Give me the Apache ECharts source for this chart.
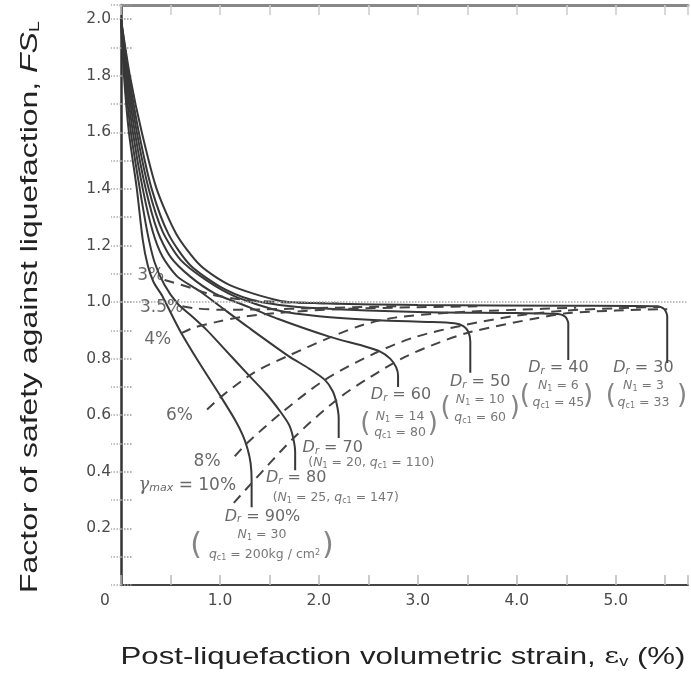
<!DOCTYPE html>
<html><head><meta charset="utf-8">
<script src="https://cdn.jsdelivr.net/npm/echarts@6/dist/echarts.min.js"></script>
<style>html,body{margin:0;padding:0;background:#fff}#c{width:691px;height:679px}</style>
</head><body><div id="c"></div>
<script>
// ---- tick labels ----
const xTickLabels = ['0', '1.0', '2.0', '3.0', '4.0', '5.0'];
const yTickLabels = ['0.2', '0.4', '0.6', '0.8', '1.0', '1.2', '1.4', '1.6', '1.8', '2.0'];

// ---- solid curves: relative density Dr (εv %, FSL) ----
const dr90 = [[0,2.0],[0.03,1.8],[0.08,1.6],[0.16,1.4],[0.22,1.22],[0.27,1.13],[0.33,1.07],[0.42,1.02],[0.52,0.95],[0.61,0.89],[0.8,0.78],[1.01,0.665],[1.15,0.585],[1.23,0.53],[1.28,0.48],[1.31,0.43],[1.32,0.37],[1.32,0.275]];
const dr80 = [[0,2.0],[0.04,1.8],[0.1,1.6],[0.19,1.4],[0.27,1.24],[0.34,1.14],[0.44,1.06],[0.57,0.995],[0.7,0.955],[0.87,0.9],[1.03,0.84],[1.29,0.742],[1.47,0.675],[1.62,0.608],[1.7,0.565],[1.74,0.52],[1.76,0.47],[1.76,0.406]];
const dr70 = [[0,2.0],[0.05,1.8],[0.12,1.6],[0.22,1.4],[0.32,1.25],[0.42,1.16],[0.57,1.09],[0.79,1.04],[1.02,0.98],[1.29,0.91],[1.69,0.81],[1.9,0.765],[2.06,0.725],[2.14,0.685],[2.18,0.64],[2.2,0.59],[2.2,0.52]];
const dr60 = [[0,2.0],[0.06,1.8],[0.14,1.6],[0.25,1.4],[0.37,1.25],[0.5,1.16],[0.7,1.09],[0.95,1.03],[1.2,0.995],[1.59,0.94],[2.12,0.876],[2.45,0.845],[2.62,0.825],[2.72,0.8],[2.78,0.77],[2.8,0.74],[2.8,0.70]];
const dr50 = [[0,2.0],[0.07,1.8],[0.16,1.6],[0.28,1.4],[0.42,1.25],[0.6,1.15],[0.85,1.08],[1.15,1.02],[1.59,0.97],[2.0,0.95],[2.6,0.936],[3.1,0.93],[3.37,0.925],[3.46,0.915],[3.51,0.895],[3.53,0.86],[3.53,0.75]];
const dr40 = [[0,2.0],[0.08,1.8],[0.18,1.6],[0.31,1.4],[0.48,1.24],[0.7,1.13],[1.0,1.055],[1.3,1.01],[1.6,0.99],[2.0,0.978],[3.0,0.965],[4.0,0.961],[4.42,0.958],[4.49,0.948],[4.52,0.925],[4.52,0.795]];
const dr30 = [[0,2.0],[0.09,1.8],[0.21,1.6],[0.36,1.4],[0.56,1.24],[0.8,1.13],[1.1,1.06],[1.6,1.005],[2.0,0.996],[3.0,0.99],[4.5,0.987],[5.42,0.985],[5.49,0.975],[5.52,0.95],[5.52,0.785]];

// ---- dashed curves: maximum shear strain γmax ----
const gam10 = [[1.14,0.29],[1.32,0.36],[1.76,0.525],[2.2,0.66],[2.52,0.735],[2.87,0.806],[3.2,0.855],[3.53,0.894],[4.2,0.943],[4.53,0.961],[5.0,0.97],[5.52,0.975]];
const gam8 = [[1.15,0.455],[1.27,0.5],[1.62,0.608],[2.06,0.725],[2.57,0.82],[2.97,0.876],[3.45,0.917],[4.0,0.952],[4.5,0.97],[5.0,0.978],[5.45,0.983]];
const gam6 = [[0.87,0.62],[1.01,0.665],[1.34,0.75],[1.69,0.81],[2.12,0.876],[2.45,0.92],[2.77,0.945],[3.3,0.962],[4.0,0.973],[4.6,0.98]];
const gam4 = [[0.61,0.89],[0.74,0.91],[0.97,0.93],[1.21,0.947],[1.6,0.962],[2.2,0.975],[3.0,0.982],[3.6,0.985]];
const gam35 = [[0.62,0.985],[0.75,0.978],[1.0,0.973],[1.4,0.974],[2.0,0.979],[2.8,0.985]];
const gam3 = [[0.44,1.078],[0.52,1.07],[0.71,1.05],[0.91,1.027],[1.2,1.01],[1.6,1.0],[2.2,0.995]];

// ---- annotation texts [text, x, y] ----
const gammaLabels = [['3%',0.30,1.095],['3.5%',0.41,0.982],['4%',0.37,0.866],['6%',0.59,0.60],['8%',0.87,0.435],['{g|γ}{gs|max} = 10%',0.67,0.353]];
const drLabels = [['{d|D}{ds|r} = 90%',1.43,0.242],['{d|D}{ds|r} = 80',1.77,0.378],['{d|D}{ds|r} = 70',2.14,0.484],['{d|D}{ds|r} = 60',2.83,0.671],['{d|D}{ds|r} = 50',3.63,0.717],['{d|D}{ds|r} = 40',4.42,0.767],['{d|D}{ds|r} = 30',5.28,0.767]];
const subLabels = [
  ['{n|N}{ns|1} = 30',1.425,0.177],['{n|q}{ns|c1} = 200kg / cm{sup|2}',1.45,0.106],
  ['({n|N}{ns|1} = 25, {n|q}{ns|c1} = 147)',2.17,0.307],
  ['({n|N}{ns|1} = 20, {n|q}{ns|c1} = 110)',2.53,0.431],
  ['{n|N}{ns|1} = 14',2.82,0.594],['{n|q}{ns|c1} = 80',2.82,0.537],
  ['{n|N}{ns|1} = 10',3.63,0.654],['{n|q}{ns|c1} = 60',3.63,0.59],
  ['{n|N}{ns|1} = 6',4.42,0.703],['{n|q}{ns|c1} = 45',4.42,0.643],
  ['{n|N}{ns|1} = 3',5.28,0.703],['{n|q}{ns|c1} = 33',5.28,0.643]
];
const parenLabels = [['(',0.76,0.138,30],[')',2.09,0.138,30],['(',2.47,0.569,26],[')',3.15,0.569,26],['(',3.28,0.625,26],[')',3.98,0.625,26],['(',4.08,0.668,26],[')',4.72,0.668,26],['(',4.95,0.668,26],[')',5.67,0.668,26]];

const drSeries = [dr90, dr80, dr70, dr60, dr50, dr40, dr30];
const gamSeries = [gam10, gam8, gam6, gam4, gam35, gam3];

const chart = echarts.init(document.getElementById('c'));
const FONT = 'DejaVu Sans';
const richAnno = {
  d: {fontStyle:'italic', fontSize:16, fontFamily:FONT, color:'#444'},
  ds: {fontStyle:'italic', fontSize:10, fontFamily:FONT, color:'#444', verticalAlign:'bottom'},
  n: {fontStyle:'italic', fontSize:12.5, fontFamily:FONT, color:'#555'},
  ns: {fontSize:8, fontFamily:FONT, color:'#555', verticalAlign:'bottom'},
  sup: {fontSize:8, fontFamily:FONT, color:'#555', verticalAlign:'top'},
  g: {fontStyle:'italic', fontSize:18, fontFamily:'DejaVu Serif', color:'#444'},
  gs: {fontStyle:'italic', fontSize:11, fontFamily:FONT, color:'#444', verticalAlign:'bottom'}
};
function labelSeries(arr, fontSize, color, extra) {
  return {
    type:'scatter', silent:true, symbolSize:0.1, itemStyle:{color:'transparent'}, z:10,
    data: arr.map(a => ({value:[a[1], a[2]], name:a[0], label: a[3] ? {fontSize:a[3]} : undefined})),
    label: Object.assign({show:true, position:'inside', formatter:'{b}', fontFamily:FONT, fontSize:fontSize, color:color, align:'center', verticalAlign:'middle', rich:richAnno}, extra || {})
  };
}

const series = [];
drSeries.forEach((d, i) => series.push({
  type:'line', data:d, showSymbol:false, smooth:0.25, silent:true,
  lineStyle:{color:'#383838', width:2},
  markLine: i === 0 ? {silent:true, symbol:'none', label:{show:false}, lineStyle:{type:'dotted', color:'#aaa', width:1.5}, data:[{yAxis:1.0}]} : undefined
}));
gamSeries.forEach(d => series.push({
  type:'line', data:d, showSymbol:false, smooth:0.3, silent:true,
  lineStyle:{color:'#444', width:2, type:[10,7]}
}));
series.push(labelSeries(gammaLabels, 17, '#444'));
series.push(labelSeries(drLabels, 16, '#444'));
series.push(labelSeries(subLabels, 12.5, '#555'));
series.push(labelSeries(parenLabels, 26, '#666', {fontWeight:'normal'}));

const axisFont = {fontFamily:FONT, fontSize:15.5, color:'#4a4a4a'};
chart.setOption({
  animation:false,
  backgroundColor:'#fff',
  grid:{left:121, top:5, right:-2, bottom:94},
  xAxis:[{
    type:'value', min:0, max:5.73, interval:0.5, position:'bottom',
    axisLine:{show:true, onZero:false, lineStyle:{color:'#444', width:2}},
    axisTick:{show:true, inside:true, length:10, lineStyle:{color:'#bbb', width:1.5}},
    splitLine:{show:false},
    axisLabel:Object.assign({margin:8, formatter:v => {
      if (Math.abs(v) < 1e-9) return '{z|' + xTickLabels[0] + '}';
      const k = Math.round(v * 100);
      if (k % 100 === 0 && k / 100 < xTickLabels.length) return xTickLabels[k / 100];
      return '';
    }, rich:{z:{fontFamily:FONT, fontSize:15.5, color:'#4a4a4a', padding:[0,32,0,0]}}}, axisFont)
  },{
    type:'value', min:0, max:5.73, interval:0.5, position:'top',
    axisLine:{show:true, onZero:false, lineStyle:{color:'#888', width:3}},
    axisTick:{show:true, inside:true, length:10, lineStyle:{color:'#ccc', width:1.5}},
    axisLabel:{show:false}, splitLine:{show:false}
  }],
  yAxis:[{
    type:'value', min:0, max:2.05, interval:0.1, position:'left',
    axisLine:{show:true, onZero:false, lineStyle:{color:'#333', width:2.5}},
    axisTick:{show:true, inside:true, length:12, lineStyle:{color:'#999', width:1.5, type:'dotted'}},
    splitLine:{show:false},
    axisLabel:Object.assign({margin:10, formatter:v => {
      const k = Math.round(v * 100);
      if (k > 0 && k % 20 === 0) return yTickLabels[k / 20 - 1] || '';
      return '';
    }}, axisFont)
  },{
    type:'value', min:0, max:2.05, interval:0.1, position:'right',
    axisLine:{show:false},
    axisTick:{show:true, inside:true, length:10, lineStyle:{color:'#aaa', width:1.5, type:'dotted'}},
    axisLabel:{show:false}, splitLine:{show:false}
  }],
  graphic:[{
    type:'text', x:403, y:657, scaleX:1.3, silent:true,
    style:{text:'Post-liquefaction volumetric strain, {e|ε}{v|v} (%)', fontFamily:'Liberation Sans', fontSize:24, fill:'#222', align:'center', verticalAlign:'middle',
      rich:{e:{fontFamily:'DejaVu Serif', fontSize:22, fill:'#222'}, v:{fontFamily:'Liberation Sans', fontSize:14, fill:'#222', verticalAlign:'bottom'}}}
  },{
    type:'text', x:30, y:307, rotation:Math.PI/2, scaleX:1.33, silent:true,
    style:{text:'Factor of safety against liquefaction, {it|FS}{sub|L}', fontFamily:'Liberation Sans', fontSize:24, fill:'#222', align:'center', verticalAlign:'middle',
      rich:{it:{fontFamily:'Liberation Sans', fontStyle:'italic', fontSize:24, fill:'#222'}, sub:{fontFamily:'Liberation Sans', fontSize:15, fill:'#222', verticalAlign:'bottom'}}}
  }],
  series:series
});
</script>
</body></html>
